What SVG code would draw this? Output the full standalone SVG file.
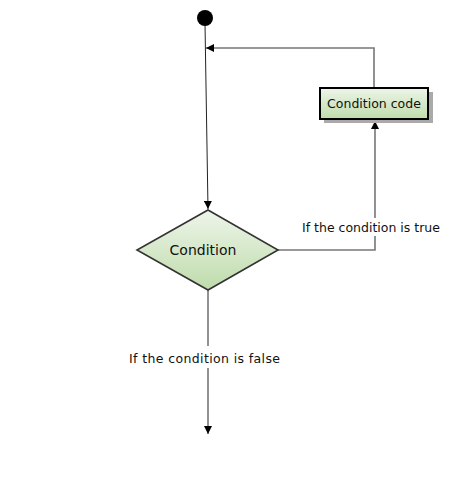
<svg xmlns="http://www.w3.org/2000/svg" width="450" height="480" viewBox="0 0 450 480">
<defs>
<linearGradient id="g" x1="0" y1="0" x2="0" y2="1">
<stop offset="0" stop-color="#eef5ea"/>
<stop offset="1" stop-color="#bedcab"/>
</linearGradient>
<marker id="a" viewBox="0 0 10 10" refX="10" refY="5" markerWidth="8" markerHeight="8" markerUnits="userSpaceOnUse" orient="auto">
<path d="M0,0 L10,5 L0,10 z" fill="#000"/>
</marker>
<style>
.t{font-family:"DejaVu Sans",Verdana,sans-serif;font-size:12.5px;fill:#111}
.c{fill:none;stroke:#777;stroke-width:1.6}
</style>
</defs>
<rect width="450" height="480" fill="#fff"/>
<g id="connectors">
<line x1="205" y1="24" x2="208" y2="209" stroke="#222" stroke-width="1" marker-end="url(#a)"/>
<polyline class="c" points="374,88 374,48 206,48" marker-end="url(#a)"/>
<polyline class="c" points="278,250 375,250 375,121" marker-end="url(#a)"/>
<line class="c" x1="208" y1="290" x2="208" y2="434" marker-end="url(#a)"/>
<rect x="300" y="218" width="145" height="18" fill="#fff"/>
<rect x="125" y="346" width="160" height="22" fill="#fff"/>
<text class="t" x="302" y="232">If the condition is true</text>
<text class="t" x="129" y="363" textLength="151" lengthAdjust="spacing">If the condition is false</text>
</g>
<g id="start">
<circle cx="205" cy="18" r="8" fill="#000"/>
</g>
<g id="condition-code">
<rect x="324" y="92" width="109" height="31" fill="#aaa"/>
<rect x="320" y="88" width="108" height="31" fill="url(#g)" stroke="#000" stroke-width="2"/>
<text class="t" x="374" y="108" text-anchor="middle">Condition code</text>
</g>
<g id="condition">
<polygon points="208,210 278,250 208,290 137,250" fill="url(#g)" stroke="#333" stroke-width="1.6"/>
<text class="t" x="203" y="255" text-anchor="middle" style="font-size:14px">Condition</text>
</g>
</svg>
